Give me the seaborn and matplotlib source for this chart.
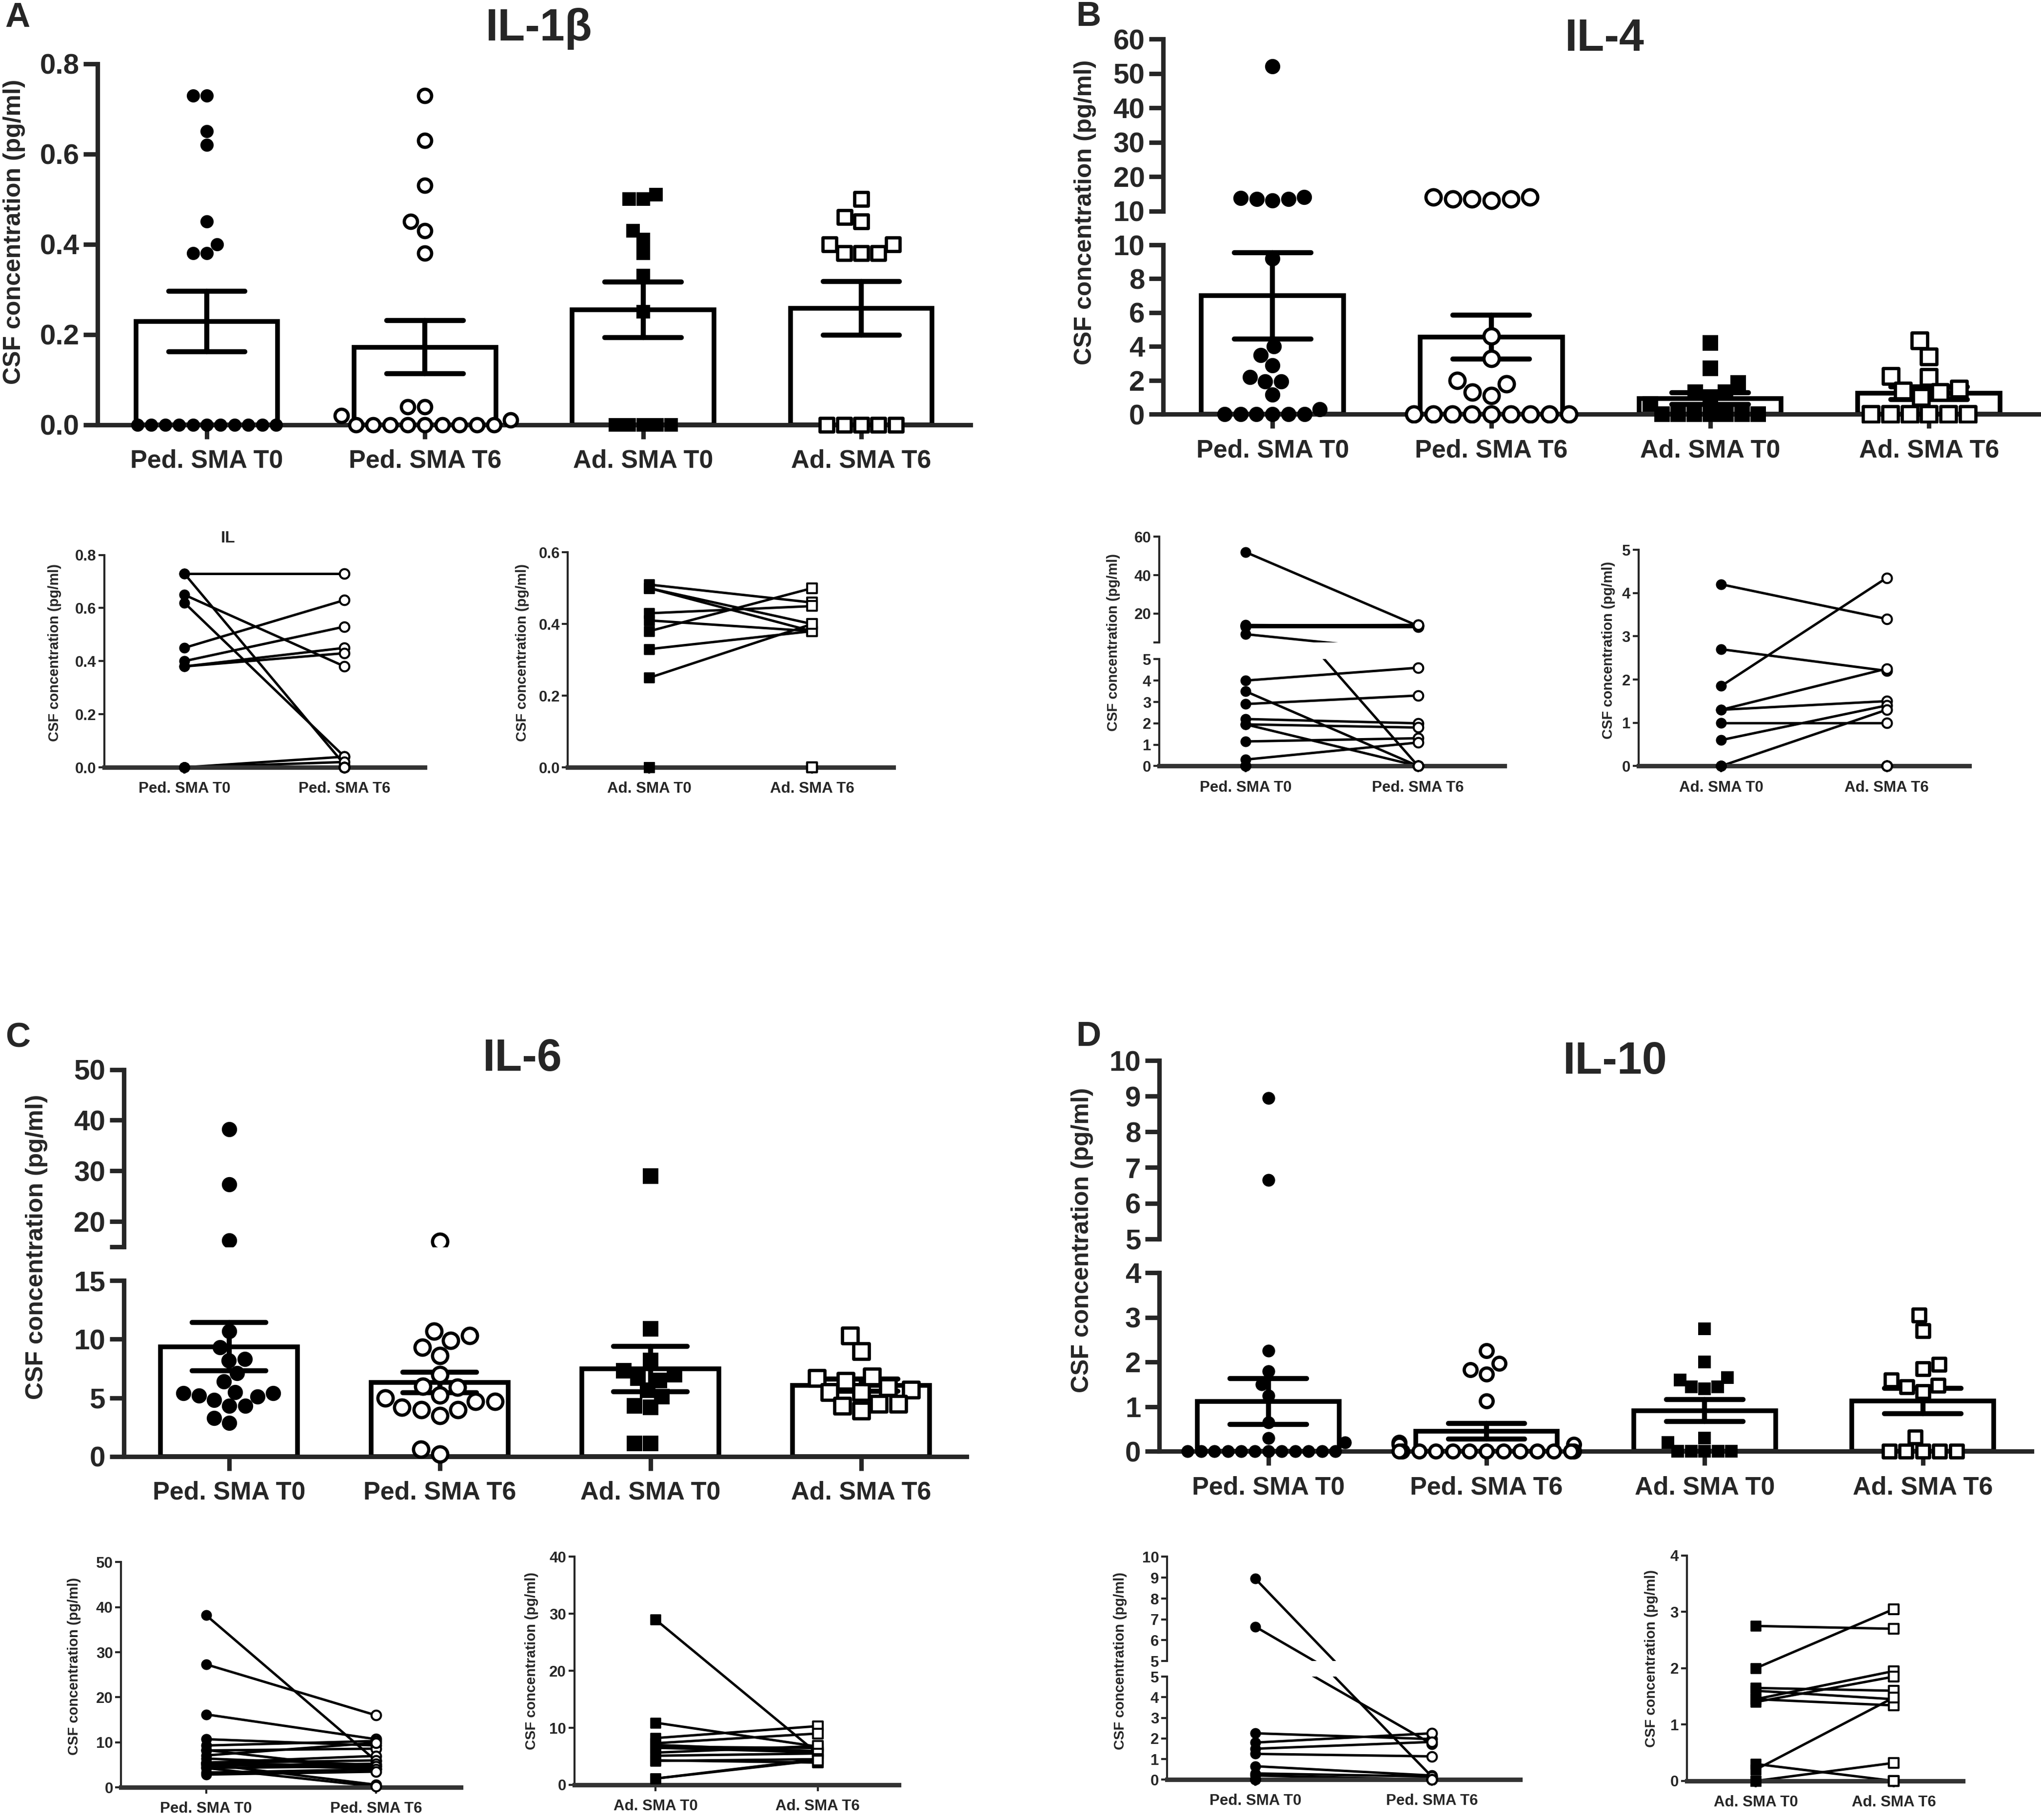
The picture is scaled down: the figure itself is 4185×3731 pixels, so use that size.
import numpy as np
import pandas as pd
import matplotlib
matplotlib.use("Agg")
import matplotlib.pyplot as plt
import seaborn as sns

groups = ["Ped. SMA T0", "Ped. SMA T6", "Ad. SMA T0", "Ad. SMA T6"]

# IL-1beta (same patient order in T0 and T6 lists, used for the paired plots)
il1b_ped_t0 = [0.73, 0.73, 0.65, 0.62, 0.45, 0.40, 0.38, 0.38, 0, 0, 0, 0, 0, 0, 0, 0, 0, 0, 0]
il1b_ped_t6 = [0.73, 0.01, 0.38, 0.04, 0.63, 0.53, 0.45, 0.43, 0.04, 0.02, 0, 0, 0, 0, 0, 0, 0, 0, 0]
il1b_ad_t0 = [0.51, 0.50, 0.50, 0.43, 0.41, 0.38, 0.33, 0.25, 0, 0, 0, 0, 0]
il1b_ad_t6 = [0.46, 0.40, 0.38, 0.45, 0.38, 0.50, 0.38, 0.40, 0, 0, 0, 0, 0]

# IL-4
il4_ped_t0 = [52.0, 13.5, 13.0, 13.5, 14.0, 13.8, 9.2, 4.0, 3.5, 2.9, 2.2, 1.95, 1.95, 1.15, 0.3,
              0, 0, 0, 0, 0, 0]
il4_ped_t6 = [13.5, 13.5, 13.0, 14.0, 13.5, 14.0, 0.0, 4.6, 0.0, 3.3, 2.0, 1.8, 0.0, 1.3, 1.1,
              0, 0, 0, 0, 0, 0]
il4_ad_t0 = [4.2, 1.85, 2.7, 1.3, 1.3, 1.0, 0.6, 0, 0, 0, 0, 0, 0, 0]
il4_ad_t6 = [3.4, 4.35, 2.2, 2.25, 1.5, 1.0, 1.4, 1.3, 0, 0, 0, 0, 0, 0]

# IL-6
il6_ped_t0 = [38.2, 27.3, 16.2, 10.7, 9.3, 8.3, 8.2, 7.1, 6.4, 5.5, 5.4, 5.4, 5.1, 5.2, 4.8, 4.3, 4.3, 3.3, 2.85]
il6_ped_t6 = [5.9, 16.0, 10.7, 9.3, 10.3, 4.0, 8.6, 9.9, 5.0, 7.0, 6.0, 4.7, 4.2, 0.6, 5.25, 0.2, 4.7, 4.0, 3.5]
il6_ad_t0 = [29.0, 10.9, 8.2, 7.3, 7.0, 6.7, 6.5, 5.65, 5.1, 4.2, 4.3, 1.1, 1.1]
il6_ad_t6 = [5.5, 6.7, 10.3, 9.0, 5.9, 6.45, 5.7, 6.8, 5.5, 4.5, 3.9, 4.5, 4.3]

# IL-10
il10_ped_t0 = [8.95, 6.65, 2.25, 1.8, 1.5, 1.25, 0.65, 0.3, 0.2, 0, 0, 0, 0, 0, 0, 0, 0, 0, 0, 0, 0]
il10_ped_t6 = [0.15, 1.73, 1.97, 2.25, 1.83, 1.13, 0.2, 0.15, 0, 0, 0, 0, 0, 0, 0, 0, 0, 0, 0, 0, 0]
il10_ad_t0 = [2.75, 2.0, 1.65, 1.6, 1.45, 1.45, 1.4, 0.3, 0.2, 0, 0, 0, 0, 0]
il10_ad_t6 = [2.7, 3.05, 1.6, 1.45, 1.95, 1.34, 1.85, 0.0, 1.48, 0.32, 0, 0, 0, 0]

ylab = "CSF concentration (pg/ml)"

sns.set_style("ticks")
plt.rcParams["font.family"] = ["Liberation Sans", "DejaVu Sans"]
plt.rcParams["font.weight"] = "bold"
plt.rcParams["axes.linewidth"] = 2.2

# layout measured on the reference at 1567 x 1397 scale
FW, FH = 1567.0, 1397.0
PAD = 0.05

fig = plt.figure(figsize=(13.95, 12.437), dpi=300)


def place(x0, x1, ytop, ybot, pad=0.0):
    h = ybot - ytop
    return fig.add_axes([x0 / FW, 1 - (ybot + pad * h) / FH, (x1 - x0) / FW, h * (1 + pad) / FH])


def ftext(x, y, s, **kw):
    fig.text(x / FW, 1 - y / FH, s, **kw)


def long_form(cols):
    rows = []
    for g, vals in zip(groups, cols):
        rows += [(g, v) for v in vals]
    return pd.DataFrame(rows, columns=["group", "value"])


styles = [("o", "black"), ("o", "white"), ("s", "black"), ("s", "white")]


def bar_panel(cols, x0, x1, segs, size=7.5):
    df = long_form(cols)
    for i, (lo, hi, ticks, labels, ytop, ybot) in enumerate(segs):
        bottom = i == len(segs) - 1
        ax = place(x0, x1, ytop, ybot, PAD if bottom else 0.0)
        if bottom:
            # bars (mean) and SEM only live in the lower part of a broken axis
            sns.barplot(data=df, x="group", y="value", order=groups, errorbar="se",
                        capsize=0.35, width=0.65, color="white", edgecolor="black",
                        linewidth=2.3, err_kws={"color": "black", "linewidth": 2.5}, ax=ax)
        for g, (m, fc) in zip(groups, styles):
            # only the points that fall inside this segment of the broken axis
            sub = df[(df["group"] == g) & (df["value"] >= lo) & (df["value"] <= hi)]
            if sub.empty:
                continue
            sns.swarmplot(data=sub, x="group", y="value", order=groups,
                          marker=m, color=fc, edgecolor="black",
                          linewidth=0 if fc == "black" else 1.6,
                          size=size, warn_thresh=1, ax=ax)
        ax.set_xlim(-0.5, 3.5)
        ax.set_yticks(ticks)
        ax.set_yticklabels(labels, fontsize=14, fontweight="bold")
        ax.set_xlabel("")
        ax.set_ylabel("")
        ax.spines[["top", "right"]].set_visible(False)
        ax.tick_params(axis="y", length=7, width=2.2, pad=2)
        if bottom:
            ax.set_ylim(lo - PAD * (hi - lo), hi)
            ax.spines["bottom"].set_position(("data", 0))
            ax.spines["left"].set_bounds(lo, hi)
            ax.tick_params(axis="x", length=7, width=2.2, labelsize=12.5, pad=5)
            for t in ax.get_xticklabels():
                t.set_fontweight("bold")
        else:
            ax.set_ylim(lo, hi)
            ax.spines["bottom"].set_visible(False)
            ax.tick_params(axis="x", bottom=False, labelbottom=False)


def pair_panel(t0, t6, marker, x0, x1, segs, xlabels):
    n = len(t0)
    df = pd.DataFrame({"subject": list(range(n)) * 2,
                       "time": [0] * n + [1] * n,
                       "value": list(t0) + list(t6)})
    peak = df.groupby("subject")["value"].transform("max")
    for i, (lo, hi, ticks, labels, ytop, ybot) in enumerate(segs):
        bottom = i == len(segs) - 1
        ax = place(x0, x1, ytop, ybot, PAD if bottom else 0.0)
        # upper part of a broken axis: only pairs that actually reach it
        lines = df if bottom else df[peak > lo]
        sns.lineplot(data=lines, x="time", y="value", units="subject", estimator=None,
                     color="black", linewidth=1.2, ax=ax)
        inside = df[(df["value"] >= lo) & (df["value"] <= hi)]
        sns.scatterplot(data=inside[inside["time"] == 0], x="time", y="value", marker=marker,
                        color="black", edgecolor="black", s=22, linewidth=0.6, zorder=3, ax=ax)
        sns.scatterplot(data=inside[inside["time"] == 1], x="time", y="value", marker=marker,
                        color="white", edgecolor="black", s=22, linewidth=1.0, zorder=3, ax=ax)
        ax.set_xlim(-0.5, 1.5)
        ax.set_yticks(ticks)
        ax.set_yticklabels(labels, fontsize=7.5, fontweight="bold")
        ax.set_xlabel("")
        ax.set_ylabel("")
        ax.spines[["top", "right"]].set_visible(False)
        ax.spines["left"].set_linewidth(1.0)
        ax.tick_params(axis="y", length=3, width=1, pad=1)
        if bottom:
            ax.set_ylim(lo - PAD * (hi - lo), hi)
            ax.spines["bottom"].set_position(("data", 0))
            ax.spines["bottom"].set_linewidth(2.2)
            ax.spines["bottom"].set_color("#333333")
            ax.spines["left"].set_bounds(lo, hi)
            ax.set_xticks([0, 1])
            ax.set_xticklabels(xlabels, fontsize=7.5, fontweight="bold")
            ax.tick_params(axis="x", length=3, width=1, pad=4)
        else:
            ax.set_ylim(lo, hi)
            ax.spines["bottom"].set_visible(False)
            ax.tick_params(axis="x", bottom=False, labelbottom=False)


def fmt(vals, dec=0):
    return [f"{v:.{dec}f}" for v in vals]


# ---------- A : IL-1beta ----------
t = [0, 0.2, 0.4, 0.6, 0.8]
bar_panel([il1b_ped_t0, il1b_ped_t6, il1b_ad_t0, il1b_ad_t6], 75, 745,
          [(0, 0.8, t, fmt(t, 1), 49, 326)], size=6.5)
pair_panel(il1b_ped_t0, il1b_ped_t6, "o", 80, 326,
           [(0, 0.8, t, fmt(t, 1), 426, 589)], groups[:2])
t = [0, 0.2, 0.4, 0.6]
pair_panel(il1b_ad_t0, il1b_ad_t6, "s", 436, 686,
           [(0, 0.6, t, fmt(t, 1), 424, 589)], groups[2:])

# ---------- B : IL-4 ----------
t = [10, 20, 30, 40, 50, 60]
t2 = [0, 2, 4, 6, 8, 10]
bar_panel([il4_ped_t0, il4_ped_t6, il4_ad_t0, il4_ad_t6], 893, 1565,
          [(10, 60, t, fmt(t), 30, 162),
           (0, 10, t2, fmt(t2), 188, 318)], size=7.5)
t2 = [0, 1, 2, 3, 4, 5]
pair_panel(il4_ped_t0, il4_ped_t6, "o", 890, 1155,
           [(5, 60, [5, 20, 40, 60], ["", "20", "40", "60"], 412, 493),
            (0, 5, t2, fmt(t2), 506, 588)], groups[:2])
pair_panel(il4_ad_t0, il4_ad_t6, "o", 1258, 1512,
           [(0, 5, t2, fmt(t2), 422, 588)], groups[2:])

# ---------- C : IL-6 ----------
t2 = [0, 5, 10, 15]
bar_panel([il6_ped_t0, il6_ped_t6, il6_ad_t0, il6_ad_t6], 95, 742,
          [(15, 50, [15, 20, 30, 40, 50], ["", "20", "30", "40", "50"], 821, 957),
           (0, 15, t2, fmt(t2), 983, 1118)], size=7.5)
t = [0, 10, 20, 30, 40, 50]
pair_panel(il6_ped_t0, il6_ped_t6, "o", 93, 354,
           [(0, 50, t, fmt(t), 1199, 1372)], groups[:2])
t = [0, 10, 20, 30, 40]
pair_panel(il6_ad_t0, il6_ad_t6, "s", 441, 690,
           [(0, 40, t, fmt(t), 1195, 1370)], groups[2:])

# ---------- D : IL-10 ----------
t = [5, 6, 7, 8, 9, 10]
bar_panel([il10_ped_t0, il10_ped_t6, il10_ad_t0, il10_ad_t6], 890, 1560,
          [(5, 10, t, fmt(t), 814, 951),
           (0, 4, [0, 1, 2, 3, 4], fmt([0, 1, 2, 3, 4]), 977, 1114)], size=6.3)
pair_panel(il10_ped_t0, il10_ped_t6, "o", 896, 1167,
           [(5, 10, t, fmt(t), 1195, 1275),
            (0, 5, [0, 1, 2, 3, 4, 5], fmt([0, 1, 2, 3, 4, 5]), 1287, 1366)], groups[:2])
t = [0, 1, 2, 3, 4]
pair_panel(il10_ad_t0, il10_ad_t6, "s", 1295, 1507,
           [(0, 4, t, fmt(t), 1194, 1367)], groups[2:])

# ---------- texts ----------
for letter, x, y in [("A", 4, 14), ("B", 826, 13), ("C", 4, 797), ("D", 826, 796)]:
    ftext(x, y, letter, fontsize=17, fontweight="bold", ha="left", va="center")
for title, x, y in [("IL-1β", 414, 22), ("IL-4", 1232, 30), ("IL-6", 401, 813), ("IL-10", 1240, 815)]:
    ftext(x, y, title, fontsize=22, fontweight="bold", ha="center", va="center")
ftext(175, 413, "IL", fontsize=8, fontweight="bold", ha="center", va="center")

for x, y in [(11, 178), (833, 163), (28, 957), (831, 952)]:
    ftext(x, y, ylab, fontsize=12, fontweight="bold", rotation=90, ha="center", va="center")
for x, y in [(42, 501), (401, 501), (855, 493), (1235, 499),
             (57, 1279), (408, 1275), (860, 1275), (1268, 1273)]:
    ftext(x, y, ylab, fontsize=7, fontweight="bold", rotation=90, ha="center", va="center")

fig.savefig("out.png", dpi=300, facecolor="white")
